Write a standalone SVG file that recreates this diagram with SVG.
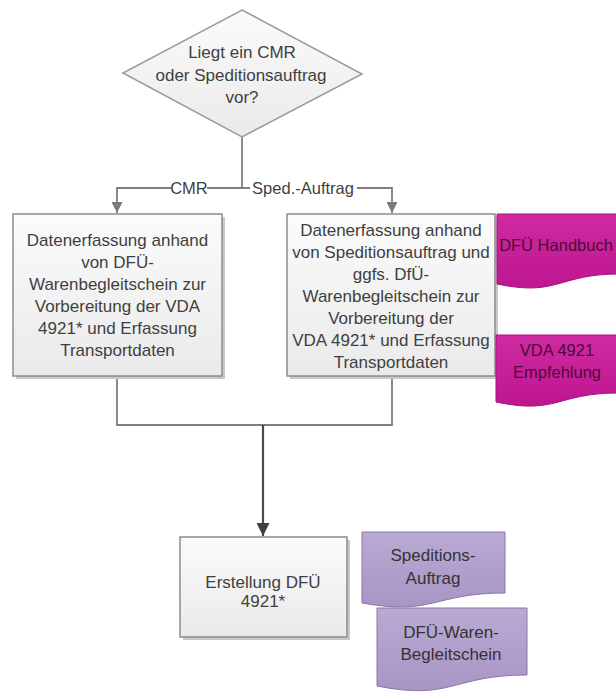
<svg xmlns="http://www.w3.org/2000/svg" width="616" height="696" viewBox="0 0 616 696">
<defs>
<linearGradient id="gBox" x1="0" y1="0" x2="0" y2="1"><stop offset="0" stop-color="#fbfbfb"/><stop offset="1" stop-color="#eaeaea"/></linearGradient>
<linearGradient id="gPink" x1="0" y1="0" x2="0" y2="1"><stop offset="0" stop-color="#d02aa2"/><stop offset="1" stop-color="#bd1690"/></linearGradient>
<linearGradient id="gLav" x1="0" y1="0" x2="0" y2="1"><stop offset="0" stop-color="#b9aad3"/><stop offset="1" stop-color="#a895c6"/></linearGradient>
<marker id="aGray" viewBox="0 0 10 10" refX="10" refY="5" markerWidth="11" markerHeight="11" markerUnits="userSpaceOnUse" orient="auto"><path d="M0,0 L10,5 L0,10 Z" fill="#7a7a7a"/></marker>
<marker id="aDark" viewBox="0 0 10 10" refX="10" refY="5" markerWidth="13" markerHeight="13" markerUnits="userSpaceOnUse" orient="auto"><path d="M0,0 L10,5 L0,10 Z" fill="#3f3f3f"/></marker>
</defs>
<style>
text{font-family:"Liberation Sans",Arial,sans-serif;font-size:17px;fill:#3f3f3f;text-anchor:middle}
.box{fill:url(#gBox);stroke:#8c8c8c;stroke-width:1.5}
.shadow{fill:#c8c8c8}
.con{fill:none;stroke:#7f7f7f;stroke-width:1.8}
.main{fill:none;stroke:#4a4a4a;stroke-width:2.2}
.lbl{font-size:16.5px}
.lblbg{fill:#ffffff}
.pink{fill:url(#gPink);stroke:#a81282;stroke-width:1}
.pinkt{fill:#4d0a3a;font-size:16.5px}
.lav{fill:url(#gLav);stroke:#8877a8;stroke-width:1}
.lavt{fill:#333333}
</style>
<rect width="616" height="696" fill="#ffffff"/>

<g id="connectors">
<path class="con" d="M242,137 V188"/>
<path class="con" d="M242,188 H117 V213" marker-end="url(#aGray)"/>
<path class="con" d="M242,188 H392 V213" marker-end="url(#aGray)"/>
<rect class="lblbg" x="171" y="180" width="36" height="16"/>
<text class="lbl" x="189" y="194">CMR</text>
<rect class="lblbg" x="250" y="180" width="107" height="16"/>
<text class="lbl" x="303" y="194">Sped.-Auftrag</text>
<path class="con" d="M117,376 V425 H392 V376"/>
<path class="main" d="M263,425 V536" marker-end="url(#aDark)"/>
</g>

<g id="decision">
<polygon points="242,10 362,74 242,137 123,73" fill="url(#gBox)" stroke="#9a9a9a" stroke-width="1.5"/>
<text x="242" y="58">Liegt ein CMR</text>
<text x="241" y="81">oder Speditionsauftrag</text>
<text x="242" y="103">vor?</text>
</g>

<g id="box-cmr">
<rect class="shadow" x="16" y="217" width="209" height="162"/>
<rect class="box" x="13" y="214" width="209" height="162"/>
<text x="117.5" y="246">Datenerfassung anhand</text>
<text x="117.5" y="268">von DFÜ-</text>
<text x="117.5" y="290">Warenbegleitschein zur</text>
<text x="117.5" y="312">Vorbereitung der VDA</text>
<text x="117.5" y="334">4921* und Erfassung</text>
<text x="117.5" y="356">Transportdaten</text>
</g>

<g id="box-sped">
<rect class="shadow" x="290" y="217" width="208" height="162"/>
<rect class="box" x="287" y="214" width="208" height="162"/>
<text x="391" y="236">Datenerfassung anhand</text>
<text x="391" y="258">von Speditionsauftrag und</text>
<text x="391" y="280">ggfs. DfÜ-</text>
<text x="391" y="302">Warenbegleitschein zur</text>
<text x="391" y="324">Vorbereitung der</text>
<text x="391" y="346">VDA 4921* und Erfassung</text>
<text x="391" y="368">Transportdaten</text>
</g>

<g id="doc-handbuch">
<path class="pink" d="M497,214 H619 V274 C558,274 558,297 497,284 Z"/>
<text class="pinkt" x="556" y="251">DFÜ Handbuch</text>
</g>

<g id="doc-vda">
<path class="pink" d="M496,335 H618 V393 C557,393 557,415 496,402 Z"/>
<text class="pinkt" x="557" y="356">VDA 4921</text>
<text class="pinkt" x="557" y="378">Empfehlung</text>
</g>

<g id="box-erstellung">
<rect class="shadow" x="183" y="540" width="167" height="100"/>
<rect class="box" x="180" y="537" width="167" height="100"/>
<text x="263" y="588">Erstellung DFÜ</text>
<text x="263" y="607">4921*</text>
</g>

<g id="doc-speditionsauftrag">
<path class="lav" d="M362,532 H505 V593 C433.5,593 433.5,616 362,603 Z"/>
<text class="lavt" x="433" y="561">Speditions-</text>
<text class="lavt" x="433" y="584">Auftrag</text>
</g>

<g id="doc-warenbegleitschein">
<path class="lav" d="M377,608 H527 V675 C452,675 452,701 377,686 Z"/>
<text class="lavt" x="451" y="638">DFÜ-Waren-</text>
<text class="lavt" x="451" y="660">Begleitschein</text>
</g>
</svg>
